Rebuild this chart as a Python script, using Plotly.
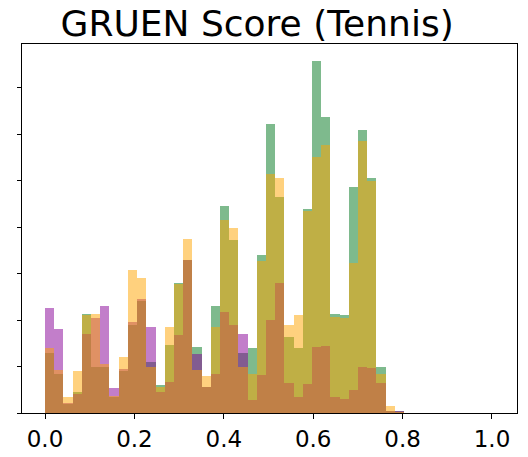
import plotly.graph_objects as go

# histogram bins (shared by all three series)
BIN_W = 0.0206
N_BINS = 40
bin_left = [round(i * BIN_W, 4) for i in range(N_BINS)]

# bar heights (density)
h_green = [1.30, 0.85, 0.20, 0.45, 2.14, 1.00, 1.00, 0.35, 0.90, 1.90,
           2.40, 1.10, 0.60, 1.46, 2.79, 3.30, 1.43, 0.55, 2.30, 4.45,
           3.72, 1.30, 1.40, 3.40, 6.21, 4.65, 1.64, 1.39, 4.38, 7.57,
           6.37, 2.14, 2.11, 4.87, 6.10, 5.05, 0.98, 0.03, 0.04, 0.00]
h_purple = [2.25, 1.81, 0.21, 0.40, 1.70, 2.05, 2.30, 0.53, 0.95, 1.96,
            2.45, 1.84, 0.45, 0.67, 1.68, 3.30, 1.27, 0.55, 0.85, 2.18,
            1.90, 1.70, 0.28, 0.82, 2.00, 2.79, 0.65, 0.35, 0.62, 1.43,
            1.45, 0.35, 0.30, 0.50, 1.00, 0.96, 0.65, 0.03, 0.03, 0.00]
h_orange = [1.39, 0.92, 0.35, 0.91, 2.10, 2.12, 1.05, 0.37, 1.20, 3.08,
            2.90, 0.98, 0.55, 1.85, 2.77, 3.74, 0.92, 0.80, 1.86, 4.15,
            3.99, 1.00, 0.85, 3.28, 5.15, 5.05, 1.89, 2.11, 4.35, 5.51,
            5.76, 2.07, 2.05, 3.22, 5.85, 5.00, 0.85, 0.14, 0.02, 0.00]

x_ticks = [0.0, 0.2, 0.4, 0.6, 0.8, 1.0]
y_ticks = [0, 1, 2, 3, 4, 5, 6, 7]

FONT = "DejaVu Sans"

fig = go.Figure()
# drawing order matters for the blended colours
for vals, col in [(h_green, "rgb(0,120,30)"),
                  (h_purple, "rgb(135,0,150)"),
                  (h_orange, "rgb(255,165,0)")]:
    fig.add_trace(go.Bar(
        x=bin_left, y=vals, width=BIN_W, offset=0,
        marker=dict(color=col, line=dict(width=0)),
        opacity=0.5, showlegend=False,
    ))

fig.update_layout(
    width=528, height=457,
    margin=dict(l=22, r=11, t=44, b=44),
    paper_bgcolor="white", plot_bgcolor="white",
    barmode="overlay", bargap=0,
    title=dict(text="GRUEN Score (Tennis)", x=0.487, xref="container",
               xanchor="center", y=0.949, yref="container", yanchor="middle",
               font=dict(family=FONT, size=36, color="black")),
    font=dict(family=FONT, color="black"),
)
fig.update_xaxes(
    range=[-0.0515, 1.056], tickvals=x_ticks,
    ticktext=[f"{v:.1f}" for v in x_ticks],
    tickfont=dict(size=23, color="black"),
    showgrid=False, zeroline=False, automargin=False,
    showline=True, linecolor="black", linewidth=1, mirror=True,
    ticks="outside", ticklen=5, tickcolor="black",
)
fig.update_yaxes(
    range=[0, 7.94], tickvals=y_ticks, showticklabels=False,
    showgrid=False, zeroline=False, automargin=False,
    showline=True, linecolor="black", linewidth=1, mirror=True,
    ticks="outside", ticklen=4, tickcolor="black",
)

# page body has an 8px default margin; drop it so the figure sits at 0,0
fig.write_html("out.html", config={"displayModeBar": False},
               post_script="document.body.style.margin='0';")
